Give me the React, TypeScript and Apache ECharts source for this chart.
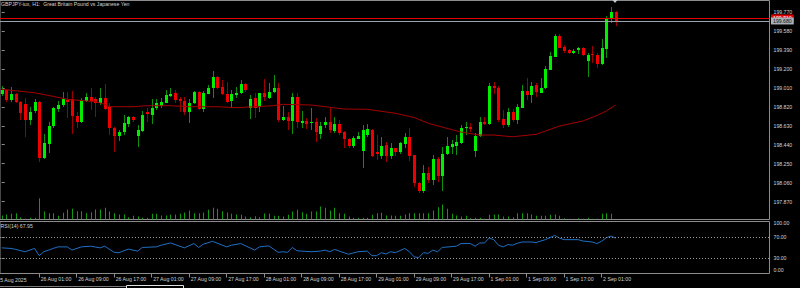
import React, { useEffect, useRef } from 'react';
import * as echarts from 'echarts';

const FONT = 'Liberation Sans, Arial, sans-serif';
const FS = 5.2;
const TXT = '#d2d2d2';
const FRAME = '#8c8c8c';

const titleText = 'GBPJPY-iux, H1:  Great Britain Pound vs Japanese Yen';
const firstDateLabel = '25 Aug 2025';
const xLabels = ['26 Aug 01:00', '26 Aug 09:00', '26 Aug 17:00', '27 Aug 01:00', '27 Aug 09:00', '27 Aug 17:00', '28 Aug 01:00', '28 Aug 09:00', '28 Aug 17:00', '29 Aug 01:00', '29 Aug 09:00', '29 Aug 17:00', '1 Sep 01:00', '1 Sep 09:00', '1 Sep 17:00', '2 Sep 01:00'];
const xLabelIdx = [8, 16, 24, 32, 40, 48, 56, 64, 72, 80, 88, 96, 104, 112, 120, 128];
const priceTicks = [197.87, 198.06, 198.25, 198.44, 198.63, 198.82, 199.01, 199.2, 199.39, 199.58, 199.77];
const rsiTicks = [0, 30, 70, 100];
const rsiInnerLabels = [30, 70];
const rsiMinLabel = 0;
const rsiMaxLabel = 100;
const rsiLevels = [70, 30];
const ASK = 199.71;
const BID = 199.68;
const rsiTitle = 'RSI(14) 67.95';

const opens = [
  198.948, 198.988, 198.891, 198.948, 198.871, 198.848, 198.688, 198.771, 198.871, 198.304,
  198.447, 198.620, 198.798, 198.838, 198.888, 198.895, 198.728, 198.671, 198.881, 198.921,
  198.895, 198.861, 198.911, 198.815, 198.604, 198.520, 198.560, 198.648, 198.721, 198.527,
  198.580, 198.768, 198.738, 198.811, 198.828, 198.861, 198.928, 198.955, 198.895, 198.878,
  198.771, 198.861, 198.971, 198.798, 198.955, 199.011, 199.121, 199.021, 198.948, 198.871,
  198.938, 198.955, 199.048, 198.811, 198.911, 198.811, 198.955, 198.911, 198.971, 199.005,
  198.695, 198.721, 198.671, 198.915, 198.661, 198.681, 198.661, 198.665, 198.554, 198.630,
  198.665, 198.580, 198.648, 198.564, 198.497, 198.427, 198.504, 198.377, 198.530, 198.587,
  198.367, 198.330, 198.437, 198.330, 198.404, 198.364, 198.447, 198.520, 198.337, 198.059,
  197.979, 198.160, 198.086, 198.297, 198.130, 198.347, 198.420, 198.430, 198.464, 198.610,
  198.620, 198.380, 198.530, 198.665, 198.648, 199.028, 199.011, 198.695, 198.638, 198.771,
  198.688, 198.815, 198.981, 198.938, 199.038, 198.965, 199.005, 199.196, 199.322, 199.532,
  199.416, 199.389, 199.362, 199.382, 199.406, 199.279, 199.346, 199.339, 199.249, 199.406,
  199.707, 199.767,
];
const highs = [
  199.028, 198.998, 199.021, 198.955, 198.878, 198.905, 198.821, 198.895, 198.878, 198.544,
  198.665, 198.821, 198.878, 198.965, 198.971, 198.978, 198.771, 198.905, 198.955, 199.005,
  198.921, 199.005, 199.048, 198.855, 198.620, 198.587, 198.738, 198.731, 198.731, 198.638,
  198.781, 198.805, 198.895, 198.898, 198.905, 198.988, 199.011, 198.988, 198.921, 198.921,
  198.895, 198.978, 198.978, 198.978, 199.038, 199.179, 199.128, 199.088, 199.071, 198.988,
  199.021, 199.088, 199.055, 198.938, 198.955, 198.961, 199.098, 199.061, 199.139, 199.055,
  198.831, 198.771, 198.955, 198.955, 198.778, 198.705, 198.805, 198.705, 198.671, 198.721,
  198.811, 198.721, 198.688, 198.577, 198.510, 198.530, 198.570, 198.638, 198.645, 198.594,
  198.537, 198.520, 198.464, 198.454, 198.410, 198.470, 198.554, 198.604, 198.337, 198.069,
  198.237, 198.220, 198.337, 198.320, 198.420, 198.520, 198.487, 198.537, 198.638, 198.665,
  198.655, 198.554, 198.721, 198.715, 199.055, 199.071, 199.028, 198.788, 198.805, 198.795,
  198.845, 199.038, 199.105, 199.071, 199.055, 199.105, 199.229, 199.366, 199.546, 199.546,
  199.439, 199.396, 199.396, 199.416, 199.416, 199.362, 199.429, 199.356, 199.496, 199.730,
  199.817, 199.780,
];
const lows = [
  198.928, 198.871, 198.871, 198.855, 198.688, 198.520, 198.638, 198.755, 198.270, 198.297,
  198.354, 198.610, 198.771, 198.821, 198.705, 198.547, 198.604, 198.655, 198.871, 198.788,
  198.715, 198.838, 198.788, 198.537, 198.364, 198.477, 198.537, 198.620, 198.671, 198.420,
  198.570, 198.668, 198.645, 198.788, 198.805, 198.855, 198.921, 198.855, 198.771, 198.738,
  198.655, 198.848, 198.788, 198.771, 198.948, 198.905, 198.998, 198.938, 198.855, 198.805,
  198.905, 198.948, 198.971, 198.698, 198.711, 198.771, 198.878, 198.898, 198.955, 198.671,
  198.678, 198.587, 198.547, 198.604, 198.604, 198.597, 198.587, 198.470, 198.497, 198.604,
  198.554, 198.554, 198.537, 198.404, 198.404, 198.410, 198.497, 198.210, 198.520, 198.320,
  198.287, 198.297, 198.264, 198.297, 198.330, 198.344, 198.404, 198.277, 198.016, 197.953,
  197.953, 198.053, 198.036, 198.069, 197.979, 198.337, 198.347, 198.337, 198.447, 198.537,
  198.570, 198.314, 198.520, 198.638, 198.638, 198.948, 198.671, 198.604, 198.614, 198.671,
  198.645, 198.805, 198.888, 198.855, 198.921, 198.961, 198.998, 199.189, 199.316, 199.406,
  199.362, 199.346, 199.346, 199.346, 199.329, 199.121, 199.256, 199.206, 199.239, 199.306,
  199.657, 199.630,
];
const closes = [
  198.988, 198.888, 198.948, 198.865, 198.765, 198.688, 198.771, 198.865, 198.310, 198.454,
  198.627, 198.805, 198.838, 198.895, 198.868, 198.721, 198.671, 198.888, 198.921, 198.881,
  198.855, 198.911, 198.805, 198.604, 198.527, 198.564, 198.655, 198.721, 198.695, 198.587,
  198.738, 198.748, 198.811, 198.861, 198.868, 198.938, 198.948, 198.881, 198.878, 198.771,
  198.861, 198.971, 198.798, 198.961, 199.011, 199.121, 199.011, 198.955, 198.871, 198.945,
  198.961, 199.048, 198.988, 198.898, 198.811, 198.955, 198.911, 198.971, 199.011, 198.688,
  198.721, 198.678, 198.915, 198.665, 198.681, 198.655, 198.671, 198.560, 198.630, 198.665,
  198.580, 198.648, 198.560, 198.494, 198.427, 198.510, 198.530, 198.587, 198.594, 198.330,
  198.347, 198.427, 198.330, 198.410, 198.364, 198.454, 198.520, 198.327, 198.056, 197.979,
  198.160, 198.086, 198.297, 198.130, 198.347, 198.430, 198.447, 198.470, 198.610, 198.620,
  198.600, 198.530, 198.671, 198.648, 199.031, 199.005, 198.688, 198.638, 198.771, 198.688,
  198.821, 198.981, 198.938, 199.028, 198.965, 199.011, 199.199, 199.332, 199.532, 199.412,
  199.379, 199.356, 199.382, 199.406, 199.339, 199.339, 199.332, 199.249, 199.406, 199.713,
  199.767, 199.680,
];
const volumes = [
  400, 500, 570, 630, 230, 70, 170, 170, 2130, 800,
  630, 630, 370, 670, 1000, 1070, 830, 830, 630, 730,
  1000, 1000, 1170, 800, 630, 500, 500, 230, 370, 300,
  170, 170, 570, 570, 400, 400, 470, 500, 570, 700,
  900, 630, 630, 700, 970, 1170, 1070, 830, 700, 570,
  500, 470, 300, 230, 330, 230, 600, 570, 370, 370,
  300, 470, 800, 970, 730, 570, 800, 800, 1300, 1170,
  900, 1170, 630, 570, 300, 170, 170, 170, 170, 470,
  630, 670, 400, 400, 370, 370, 500, 630, 630, 630,
  630, 630, 900, 1230, 1500, 1070, 570, 400, 300, 370,
  130, 170, 170, 70, 470, 500, 500, 300, 300, 230,
  630, 630, 630, 500, 370, 370, 370, 470, 500, 370,
  130, 70, 70, 130, 70, 170, 70, 70, 570, 630,
  570, 30,
];
// moving average: [bar index, price]
const maPoints = [
  [0, 198.995], [7, 198.961], [12, 198.915], [14, 198.895], [20, 198.871], [22, 198.845], [23, 198.821],
  [28, 198.821], [31, 198.831], [36, 198.831], [40, 198.821], [46, 198.821], [50, 198.811], [58, 198.831],
  [60, 198.845], [66, 198.838], [73, 198.798], [78, 198.795], [84, 198.755], [88, 198.713], [91, 198.655],
  [95, 198.604], [98, 198.567], [102, 198.537], [105, 198.537], [109, 198.520], [114, 198.544],
  [119, 198.627], [124, 198.678], [127, 198.733], [129, 198.778], [131, 198.838],
];
// RSI(14): [bar index, value]
const rsiPoints = [
  [0, 49.3], [2, 48.2], [3, 46.3], [5, 41.8], [7, 48.2], [8, 34.3], [9, 41.8], [11, 48.2], [12, 51.2],
  [14, 51.2], [15, 45], [17, 51.2], [19, 52.5], [21, 49.3], [22, 52.5], [24, 40.7], [25, 40], [27, 46.9],
  [29, 43.1], [30, 50.1], [33, 51.2], [34, 54.4], [36, 58.7], [37, 55.7], [39, 49.3], [41, 57.6],
  [42, 50.1], [43, 56.3], [45, 61.9], [48, 51.2], [49, 54.4], [51, 57.6], [54, 45], [55, 51.2],
  [57, 53.1], [59, 40.7], [60, 41.8], [61, 40.7], [62, 50.1], [63, 43.7], [64, 43.1], [66, 41.8],
  [68, 43.1], [69, 45], [70, 41.8], [71, 46.3], [74, 37], [76, 41.8], [78, 43.1], [79, 34.3], [80, 34.3],
  [81, 40], [82, 37.5], [83, 41.8], [84, 40], [86, 48.2], [87, 41.8], [88, 32], [89, 30.6], [90, 40],
  [91, 38.8], [92, 45], [93, 41.8], [94, 50.1], [97, 52.5], [98, 57.6], [100, 57.6], [101, 52.5],
  [102, 58.7], [103, 58.7], [104, 68.1], [105, 65.1], [106, 54.4], [107, 51.2], [108, 55.7], [109, 54.4],
  [110, 58], [111, 60.6], [113, 60.6], [114, 59.5], [116, 65.1], [118, 73.2], [119, 68.1], [120, 65.1],
  [123, 65.1], [124, 62.5], [126, 60.6], [127, 57.6], [128, 61.9], [129, 68.9], [130, 71.9], [131, 67.95],
];

// layout
const BAR_PX = 4.705;
const FIRST_BAR_PX = -1.3;
const GRID_LEFT = -3;
const GRID_RIGHT_EDGE = 769.5;
const GRID_W = GRID_RIGHT_EDGE - GRID_LEFT;
const X_MIN = (GRID_LEFT - FIRST_BAR_PX) / BAR_PX;
const X_MAX = X_MIN + GRID_W / BAR_PX;

const BODY_UP = '#00ee00';
const BODY_DN = '#ee0000';
const WICK_UP = '#0d8f0d';
const WICK_DN = '#9a0000';

function buildOption() {
  const candleData = opens.map((o, i) => [i, o, highs[i], lows[i], closes[i]]);
  const volData = volumes.map((v, i) => [i, v]);
  const labelMap: Record<number, string> = {};
  xLabelIdx.forEach((idx, k) => (labelMap[idx] = xLabels[k]));

  const hiddenX = (gridIndex: number) => ({
    type: 'value', gridIndex, min: X_MIN, max: X_MAX,
    axisLine: { show: false }, axisTick: { show: false }, axisLabel: { show: false }, splitLine: { show: false },
  });
  const textStyle = { fontFamily: FONT, fontSize: FS, color: TXT };

  return {
    animation: false,
    backgroundColor: '#000000',
    grid: [
      { left: GRID_LEFT, top: 0.5, width: GRID_W, height: 219, show: true, borderColor: FRAME, borderWidth: 1, backgroundColor: 'transparent' },
      { left: GRID_LEFT, top: 189.5, width: GRID_W, height: 30, show: false },
      { left: GRID_LEFT, top: 221.5, width: GRID_W, height: 52, show: true, borderColor: FRAME, borderWidth: 1, backgroundColor: 'transparent' },
    ],
    xAxis: [
      hiddenX(0),
      hiddenX(1),
      {
        type: 'value', gridIndex: 2, min: X_MIN, max: X_MAX,
        axisLine: { show: false },
        splitLine: { show: false },
        axisTick: { show: true, customValues: xLabelIdx, length: 4, lineStyle: { color: FRAME, width: 1 } },
        axisLabel: {
          show: true, customValues: xLabelIdx, align: 'left', margin: 3, padding: [0, 0, 0, 1.5],
          formatter: (v: number) => labelMap[Math.round(v)] || '',
          ...textStyle,
        },
      },
    ],
    yAxis: [
      {
        type: 'value', gridIndex: 0, position: 'right', min: 197.691, max: 199.885,
        axisLine: { show: false }, splitLine: { show: false },
        axisTick: { show: true, customValues: priceTicks, length: 3, lineStyle: { color: FRAME } },
        axisLabel: { show: true, customValues: priceTicks, margin: 4, formatter: (v: number) => v.toFixed(3), ...textStyle },
      },
      { type: 'value', gridIndex: 1, min: 0, max: 3000, show: false },
      {
        type: 'value', gridIndex: 2, position: 'right', min: 0, max: 100,
        axisLine: { show: false }, splitLine: { show: false },
        axisTick: { show: true, customValues: rsiTicks, length: 3, lineStyle: { color: FRAME } },
        axisLabel: {
          show: true, customValues: rsiInnerLabels, margin: 4,
          formatter: (v: number) => v.toFixed(2),
          ...textStyle,
        },
      },
    ],
    series: [
      {
        type: 'custom', name: 'Volume', xAxisIndex: 1, yAxisIndex: 1, data: volData, clip: true,
        renderItem: (_p: any, api: any) => {
          const i = api.value(0);
          const v = api.value(1);
          const top = api.coord([i, v]);
          const base = api.coord([i, 0]);
          const x = Math.round(top[0]);
          return { type: 'rect', shape: { x, y: top[1], width: 1, height: base[1] - top[1] }, style: { fill: '#139a13' } };
        },
      },
      {
        type: 'custom', name: 'GBPJPY', xAxisIndex: 0, yAxisIndex: 0, data: candleData, clip: true,
        renderItem: (_p: any, api: any) => {
          const i = api.value(0);
          const o = api.value(1);
          const h = api.value(2);
          const l = api.value(3);
          const c = api.value(4);
          const po = api.coord([i, o]);
          const yc = api.coord([i, c])[1];
          const yh = api.coord([i, h])[1];
          const yl = api.coord([i, l])[1];
          const cx = Math.round(po[0]);
          const up = c >= o;
          const top = Math.round(Math.min(po[1], yc));
          const hgt = Math.max(Math.round(Math.abs(po[1] - yc)), 1);
          return {
            type: 'group',
            children: [
              { type: 'line', shape: { x1: cx + 0.5, y1: Math.round(yh), x2: cx + 0.5, y2: Math.round(yl) }, style: { stroke: up ? WICK_UP : WICK_DN, lineWidth: 1 } },
              { type: 'rect', shape: { x: cx - 1, y: top, width: 3, height: hgt }, style: { fill: up ? BODY_UP : BODY_DN } },
            ],
          };
        },
      },
      {
        type: 'line', name: 'MA', xAxisIndex: 0, yAxisIndex: 0, data: maPoints, showSymbol: false, symbol: 'none',
        lineStyle: { color: '#a30000', width: 1 }, silent: true,
        markLine: {
          silent: true, symbol: ['none', 'none'], animation: false,
          data: [
            {
              yAxis: ASK, lineStyle: { color: '#e00000', width: 1, type: 'solid' },
              label: { show: true, position: 'end', distance: 1.5, formatter: ASK.toFixed(3), backgroundColor: '#e00000', color: '#ffffff', padding: [1, 2, 0.5, 2], fontFamily: FONT, fontSize: FS, lineHeight: 5.5 },
            },
            {
              yAxis: BID, lineStyle: { color: '#9aa2aa', width: 1, type: 'solid' },
              label: { show: true, position: 'end', distance: 1.5, formatter: BID.toFixed(3), backgroundColor: '#a8b0b8', color: '#101010', padding: [1, 2, 0.5, 2], fontFamily: FONT, fontSize: FS, lineHeight: 5.5 },
            },
          ],
        },
      },
      {
        type: 'line', name: 'RSI', xAxisIndex: 2, yAxisIndex: 2, data: rsiPoints, showSymbol: false, symbol: 'none',
        lineStyle: { color: '#1f6fc4', width: 1 }, silent: true,
        markLine: {
          silent: true, symbol: ['none', 'none'], animation: false, label: { show: false },
          lineStyle: { color: '#9a9a9a', width: 1, type: [1, 2] },
          data: rsiLevels.map((v) => ({ yAxis: v })),
        },
      },
    ],
    graphic: [
      { type: 'text', left: 1, top: 1.5, style: { text: titleText, ...textStyle, fill: TXT } },
      { type: 'text', x: 0.5, y: 226.3, style: { text: rsiTitle, fontFamily: FONT, fontSize: FS, fill: TXT, verticalAlign: 'middle' } },
      { type: 'text', x: -2.6, y: 279.8, style: { text: firstDateLabel, fontFamily: FONT, fontSize: FS, fill: TXT, verticalAlign: 'middle' } },
      { type: 'text', x: 773.5, y: 222.6, style: { text: rsiMaxLabel.toFixed(2), fontFamily: FONT, fontSize: FS, fill: TXT, verticalAlign: 'middle' } },
      { type: 'text', x: 773.5, y: 270.4, style: { text: rsiMinLabel.toFixed(2), fontFamily: FONT, fontSize: FS, fill: TXT, verticalAlign: 'middle' } },
      { type: 'polygon', shape: { points: [[612.5, 0], [617.5, 0], [615, 3]] }, style: { fill: '#c4ccd4' } },
      { type: 'rect', shape: { x: 0, y: 286, width: 126, height: 1 }, style: { fill: '#7a7a7a' } },
      { type: 'rect', shape: { x: 126.5, y: 285.5, width: 57, height: 3 }, style: { fill: '#000', stroke: '#e0e0e0', lineWidth: 1 } },
    ],
  };
}

export default function App() {
  const ref = useRef<HTMLDivElement>(null);
  useEffect(() => {
    if (!ref.current) return;
    const chart = echarts.init(ref.current, null, { renderer: 'svg' });
    chart.setOption(buildOption() as any);
    return () => chart.dispose();
  }, []);
  return (
    <div
      ref={ref}
      style={{ position: 'fixed', left: 0, top: 0, width: 800, height: 288, background: '#000' }}
    />
  );
}
